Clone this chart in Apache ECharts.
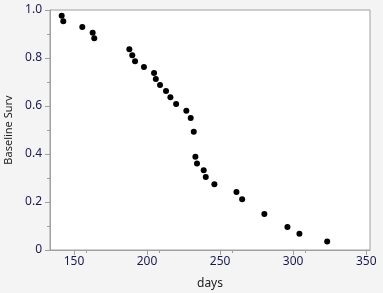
<!DOCTYPE html>
<html><head><meta charset="utf-8">
<script src="https://cdn.jsdelivr.net/npm/echarts@6/dist/echarts.min.js"></script>
<style>html,body{margin:0;padding:0;background:#f4f4f4}#c{width:383px;height:293px}</style>
</head><body><div id="c"></div>
<script>
const days = [141.6,142.7,155.7,162.8,163.9,187.9,189.9,191.8,197.9,204.8,206.0,208.9,213.0,216.0,219.9,226.9,229.9,232.0,233.1,234.2,238.8,240.2,246.1,261.2,265.1,280.3,296.1,304.3,323.3];
const surv = [0.976,0.953,0.929,0.905,0.882,0.836,0.811,0.786,0.763,0.738,0.713,0.688,0.663,0.636,0.608,0.580,0.550,0.493,0.389,0.360,0.332,0.304,0.274,0.242,0.211,0.150,0.096,0.068,0.035];
const xTitle = "days";
const yTitle = "Baseline Surv";
const chart = echarts.init(document.getElementById('c'));
const font = "'Noto Sans', sans-serif";
chart.setOption({
  backgroundColor: '#f4f4f4',
  animation: false,
  grid: {left: 50, right: 13, top: 10, bottom: 43, containLabel: false, outerBoundsMode: 'none', show: true, backgroundColor: '#ffffff', borderColor: '#a0a0a0', borderWidth: 1},
  xAxis: {
    type: 'value', min: 133.6, max: 352.6, interval: 50,
    name: xTitle, nameLocation: 'middle', nameGap: 28,
    nameTextStyle: {color: '#222', fontSize: 12, fontFamily: font},
    axisLine: {lineStyle: {color: '#a0a0a0'}},
    axisTick: {show: true, length: 5, lineStyle: {color: '#a0a0a0'}, customValues: [150,200,250,300,350]},
    minorTick: {show: true, splitNumber: 2, length: 3, lineStyle: {color: '#a0a0a0'}},
    axisLabel: {color: '#1a1a50', fontSize: 12, fontFamily: font, margin: 6, customValues: [150,200,250,300,350]},
    splitLine: {show: false}
  },
  yAxis: {
    type: 'value', min: 0, max: 1, interval: 0.2,
    name: yTitle, nameLocation: 'middle', nameGap: 34,
    nameTextStyle: {color: '#222', fontSize: 11, fontFamily: font},
    axisLine: {show: true, lineStyle: {color: '#a0a0a0'}},
    axisTick: {show: true, length: 5, lineStyle: {color: '#a0a0a0'}},
    minorTick: {show: true, splitNumber: 2, length: 3, lineStyle: {color: '#a0a0a0'}},
    axisLabel: {color: '#1a1a50', fontSize: 12, fontFamily: font, margin: 8,
      formatter: v => v === 0 ? '0' : v.toFixed(1)},
    splitLine: {show: false}
  },
  series: [{
    type: 'scatter', symbolSize: 6,
    itemStyle: {color: '#000000', opacity: 1},
    data: days.map((d, i) => [d, surv[i]])
  }]
});
</script></body></html>
